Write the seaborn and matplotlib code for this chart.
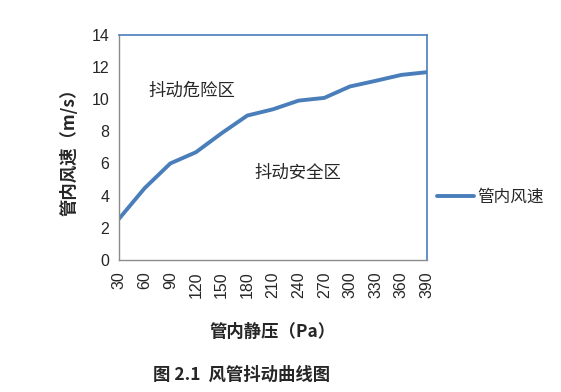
import pandas as pd
import seaborn as sns
import matplotlib.pyplot as plt

# 数据
pressure = [30, 60, 90, 120, 150, 180, 210, 240, 270, 300, 330, 360, 390]
speed = [2.55, 4.46, 6.0, 6.7, 7.88, 8.98, 9.37, 9.91, 10.08, 10.79, 11.14, 11.51, 11.68]

df = pd.DataFrame({"管内静压": pressure, "管内风速": speed})

sns.set_style("white")
plt.rcParams['font.family'] = ['Noto Sans CJK SC', 'DejaVu Sans']
plt.rcParams['axes.unicode_minus'] = False

blue = "#4A7EBB"
grey = "#8C8C8C"

fig = plt.figure(figsize=(5.61, 3.92), dpi=100)
ax = fig.add_axes([0.212, 0.337, 0.549, 0.574])
sns.lineplot(data=df, x="管内静压", y="管内风速", color=blue, linewidth=2.8,
             label="管内风速", ax=ax)

ax.set_xlim(30, 390)
ax.set_ylim(0, 14)
ax.set_xticks(pressure)
ax.set_xticklabels([str(p) for p in pressure], rotation=90, family='Liberation Sans')
ax.set_yticks(range(0, 15, 2))
ax.set_yticklabels([str(v) for v in range(0, 15, 2)], family='Liberation Sans')
ax.tick_params(axis='x', direction='in', length=4, color=grey, labelsize=11.5, pad=8)
ax.tick_params(axis='y', length=0, labelsize=11.5, pad=7)

for s in ['left', 'bottom']:
    ax.spines[s].set_color(grey)
    ax.spines[s].set_linewidth(1.0)
for s in ['top', 'right']:
    ax.spines[s].set_color(blue)
    ax.spines[s].set_linewidth(1.2)

ax.set_xlabel("管内静压（Pa）", fontsize=12.5, fontweight='bold', labelpad=18)
ax.set_ylabel("管内风速（m/s）", fontsize=12.5, fontweight='bold', labelpad=9)

ax.text(115, 10.5, "抖动危险区", fontsize=12.5, ha='center', va='center')
ax.text(239, 5.4, "抖动安全区", fontsize=12.5, ha='center', va='center')

ax.legend(loc='center left', bbox_to_anchor=(1.0, 0.28), frameon=False,
          fontsize=12, handlelength=2.2, handletextpad=0.2, borderaxespad=0.2)

fig.text(0.43, 0.043, "图 2.1  风管抖动曲线图", fontsize=12.5, fontweight='bold',
         ha='center', va='center')

plt.savefig("out.png", dpi=100)
